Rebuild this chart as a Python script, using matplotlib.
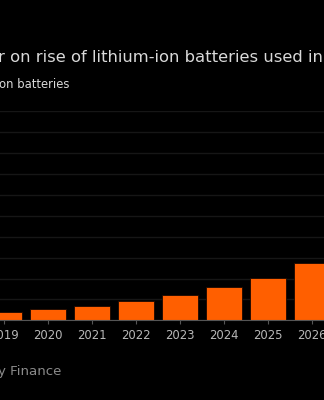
import numpy as np
import matplotlib.pyplot as plt

# visible years and bar values (in gridline units)
years = ['2019', '2020', '2021', '2022', '2023', '2024', '2025', '2026']
values = [0.38, 0.555, 0.70, 0.92, 1.22, 1.58, 2.02, 2.76]

title_text = 'r on rise of lithium-ion batteries used in'
subtitle_text = 'on batteries'
source_text = 'y Finance'

bar_color = '#ff5f00'
bg = '#000000'

fig = plt.figure(figsize=(3.24, 4.0), dpi=100, facecolor=bg)

# axes spans the full width; the chart is cropped at both sides
px_step = 44.0
first_center = 4.0
x0 = -first_center / px_step
x1 = (324 - first_center) / px_step
ax = fig.add_axes([0, 0.199, 1, 0.523])
ax.set_facecolor(bg)

x = np.arange(len(years))
ax.bar(x, values, width=36 / px_step, color=bar_color, edgecolor='#1a0800',
       linewidth=0.6, zorder=3)

ax.set_xlim(x0, x1)
ax.set_ylim(0, 10)
ax.set_yticks(np.arange(0, 11, 1))
ax.yaxis.grid(True, color='#161616', linewidth=1.0, zorder=0)
ax.tick_params(axis='y', length=0, labelleft=False)

ax.set_xticks(x)
ax.set_xticklabels(years, color='#b8b8b8', fontsize=8.4)
ax.tick_params(axis='x', length=3, width=0.8, color='#555555', pad=3.5)

for s in ['top', 'right', 'left']:
    ax.spines[s].set_visible(False)
ax.spines['bottom'].set_color('#555555')
ax.spines['bottom'].set_linewidth(0.8)
ax.spines['bottom'].set_zorder(4)

fig.text(-0.006, 1 - 58 / 400, title_text, color='#d9d9d9', fontsize=11.8,
         va='center', ha='left')
fig.text(-0.003, 1 - 85 / 400, subtitle_text, color='#d9d9d9', fontsize=8.4,
         va='center', ha='left')
fig.text(-0.006, 1 - 372 / 400, source_text, color='#8a8a8a', fontsize=9.6,
         va='center', ha='left')

fig.savefig('out.png', dpi=100, facecolor=bg)
